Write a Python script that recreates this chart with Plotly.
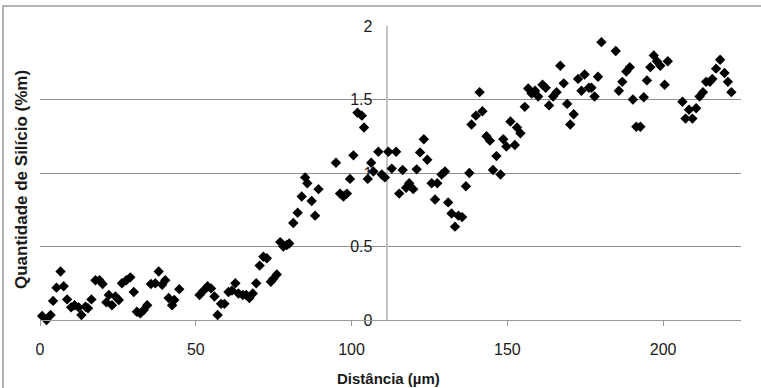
import plotly.graph_objects as go

# Distance (µm)
x_um = [0.7, 2.1, 3.4, 4.2, 5.3, 6.6, 7.6, 8.7, 10.0, 11.1, 12.4, 13.3, 14.6, 15.4, 16.5, 17.8, 19.1, 20.1,
        21.3, 22.1, 23.1, 24.2, 25.3, 26.3, 27.7, 29.0, 30.1, 31.1, 32.2, 33.3, 34.4, 35.6, 37.0, 38.1, 39.2,
        40.2, 41.3, 42.4, 43.1, 44.7,
        51.2, 52.5, 53.8, 54.9, 56.0, 57.0, 58.1, 59.2, 60.5, 61.6, 62.7, 63.7, 65.1, 66.2, 67.2, 68.3, 69.4,
        70.5, 71.7, 72.8, 74.1, 74.9, 76.0, 77.1, 78.1, 79.2, 80.0, 81.3, 82.7, 84.0, 85.1, 85.8, 87.2, 88.3,
        89.4, 95.0, 96.3, 97.4, 98.5, 99.5, 100.6, 101.9, 103.3, 104.0, 105.2, 106.3, 107.0, 108.6, 109.7,
        110.7, 111.8, 112.9, 114.3, 115.3, 116.4, 117.5, 118.5, 119.8, 120.9, 122.0, 123.2, 124.3, 125.7,
        126.8, 127.5, 128.9, 130.0, 131.0, 132.1, 133.2, 134.3, 135.5, 136.7, 137.8, 138.5, 139.9, 141.1,
        142.0, 143.3, 144.4, 145.4, 146.5, 147.8, 148.7, 149.7, 151.0, 152.4, 153.1, 154.2, 155.6, 156.7,
        157.8, 158.9, 159.9, 161.3, 162.3, 163.4, 164.7, 165.8, 167.0, 168.1, 169.2, 170.2, 171.3, 172.7,
        173.8, 174.8, 176.2, 177.0, 178.0, 179.1, 180.2, 184.8, 185.8, 186.9, 188.2, 189.3, 190.3, 191.4,
        192.7, 193.8, 194.8, 195.9, 197.0, 198.0, 199.1, 200.5, 201.5, 206.2, 207.2, 208.3, 209.4, 210.6,
        211.7, 212.8, 213.8, 215.0, 215.8, 217.0, 218.3, 219.7, 220.8, 221.9]

# Silicon content (%m)
si_pct = [0.027, 0.0, 0.034, 0.13, 0.22, 0.33, 0.23, 0.14, 0.086, 0.10, 0.086, 0.034, 0.09, 0.08, 0.14, 0.27,
          0.27, 0.245, 0.12, 0.17, 0.10, 0.16, 0.136, 0.25, 0.27, 0.29, 0.19, 0.056, 0.045, 0.068, 0.10, 0.245,
          0.25, 0.33, 0.24, 0.27, 0.15, 0.10, 0.136, 0.21,
          0.17, 0.20, 0.23, 0.215, 0.16, 0.034, 0.11, 0.11, 0.19, 0.20, 0.25, 0.18, 0.17, 0.17, 0.15, 0.18,
          0.25, 0.37, 0.43, 0.42, 0.26, 0.28, 0.31, 0.53, 0.50, 0.51, 0.52, 0.66, 0.73, 0.84, 0.97, 0.93, 0.81,
          0.71, 0.89, 1.07, 0.86, 0.84, 0.86, 0.96, 1.12, 1.41, 1.39, 1.31, 0.96, 1.07, 1.01, 1.145, 0.99,
          0.97, 1.145, 1.03, 1.145, 0.86, 1.02, 0.90, 0.93, 0.89, 1.025, 1.14, 1.23, 1.09, 0.93, 0.82, 0.93,
          0.99, 1.01, 0.80, 0.725, 0.635, 0.71, 0.70, 0.91, 1.0, 1.33, 1.39, 1.55, 1.42, 1.25, 1.22, 1.02,
          1.115, 0.99, 1.23, 1.18, 1.35, 1.19, 1.31, 1.27, 1.45, 1.575, 1.54, 1.56, 1.52, 1.60, 1.58, 1.46,
          1.52, 1.55, 1.73, 1.61, 1.47, 1.33, 1.40, 1.64, 1.56, 1.67, 1.58, 1.58, 1.52, 1.655, 1.89, 1.83,
          1.56, 1.62, 1.69, 1.72, 1.50, 1.315, 1.315, 1.515, 1.63, 1.72, 1.80, 1.76, 1.73, 1.60, 1.76, 1.485,
          1.37, 1.43, 1.37, 1.44, 1.52, 1.55, 1.62, 1.62, 1.64, 1.71, 1.77, 1.68, 1.62, 1.55]

x_ticks = [0, 50, 100, 150, 200]
x_tick_labels = ["0", "50", "100", "150", "200"]
y_ticks = [0, 0.5, 1, 1.5, 2]
y_tick_labels = ["0", "0.5", "1", "1.5", "2"]

FONT = "Liberation Sans, Arial, sans-serif"

fig = go.Figure()
fig.add_trace(go.Scatter(
    x=x_um, y=si_pct, mode="markers",
    marker=dict(symbol="diamond", size=8, color="#000000", line=dict(width=0)),
    showlegend=False, cliponaxis=False,
))

fig.update_layout(
    width=761, height=388,
    margin=dict(l=40, r=20, t=26, b=68),
    paper_bgcolor="white", plot_bgcolor="white",
    font=dict(family=FONT, color="#1a1a1a"),
    xaxis=dict(
        range=[0, 225], tickvals=x_ticks, ticktext=x_tick_labels,
        showgrid=False, zeroline=False,
        showline=True, linecolor="#9a9a9a", linewidth=1,
        ticks="outside", ticklen=5, tickcolor="#9a9a9a",
        tickfont=dict(size=16, family=FONT, color="#1a1a1a"),
        ticklabelstandoff=10,
    ),
    yaxis=dict(
        range=[0, 2], tickvals=y_ticks, ticktext=y_tick_labels,
        anchor="free", position=111.5 / 225,
        showgrid=True, gridcolor="#8f8f8f", gridwidth=1,
        zeroline=False,
        showline=True, linecolor="#c4c4c4", linewidth=1.5,
        ticks="", layer="below traces",
        tickfont=dict(size=16, family=FONT, color="#1a1a1a"),
        ticklabelstandoff=11,
    ),
    annotations=[
        dict(text="<b>Distância (µm)</b>", xref="paper", yref="paper",
             x=0.497, y=(320 - 378) / 294, xanchor="center", yanchor="middle",
             showarrow=False, font=dict(size=15, family=FONT, color="#1a1a1a")),
        dict(text="<b>Quantidade de Silício (%m)</b>", xref="paper", yref="paper",
             x=(21 - 40) / 701, y=(320 - 180) / 294, xanchor="center", yanchor="middle",
             textangle=-90, showarrow=False,
             font=dict(size=17, family=FONT, color="#1a1a1a")),
    ],
    shapes=[
        dict(type="rect", xref="paper", yref="paper",
             x0=(3 - 40) / 701, x1=(770 - 40) / 701,
             y0=(320 - 400) / 294, y1=(320 - 6) / 294,
             line=dict(color="#9a9a9a", width=1.5), fillcolor="rgba(0,0,0,0)", layer="below"),
    ],
)

fig.write_html(
    "out.html",
    config={"displayModeBar": False},
    post_script="document.body.style.margin='0';document.body.style.overflow='hidden';",
)
